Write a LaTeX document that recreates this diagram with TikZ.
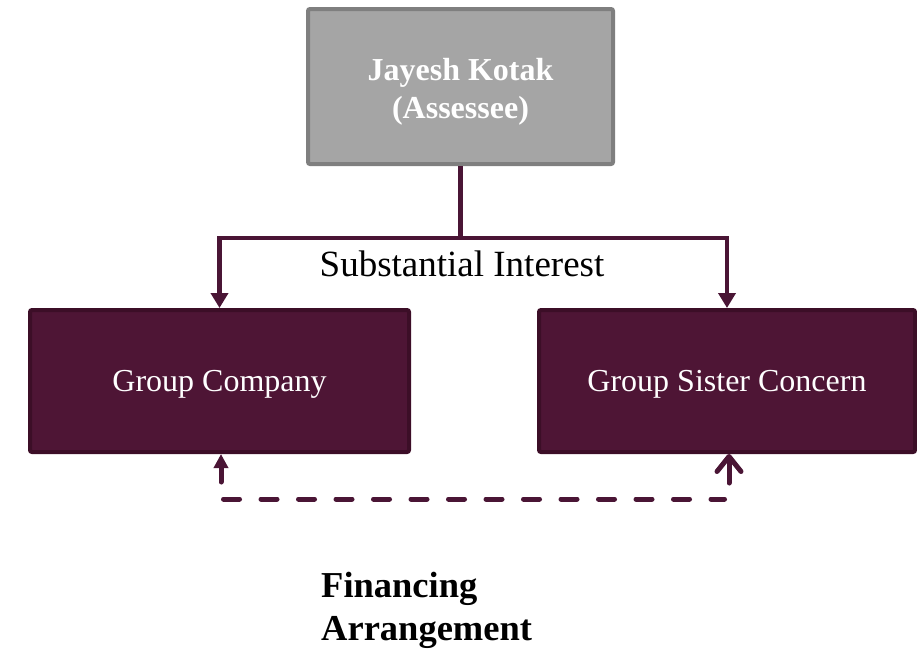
\documentclass[tikz,border=0pt]{standalone}
\usepackage{fontspec}
\setmainfont{Liberation Serif}
\usetikzlibrary{arrows.meta}

\definecolor{topfill}{HTML}{A5A5A5}
\definecolor{topedge}{HTML}{7F7F7F}
\definecolor{boxfill}{HTML}{4E1535}
\definecolor{boxedge}{HTML}{3C0E27}
\definecolor{linkcol}{HTML}{4A1535}

\tikzset{
  topbox/.style={draw=topedge, fill=topfill, line width=4pt, rounded corners=2pt,
    minimum width=305pt, minimum height=155pt, inner sep=0pt,
    text=white, align=center, font=\fontsize{32}{38}\selectfont\bfseries},
  groupbox/.style={draw=boxedge, fill=boxfill, line width=4pt, rounded corners=2pt,
    minimum height=142pt, inner sep=0pt, text=white,
    font=\fontsize{32}{38}\selectfont, text depth=0pt},
  link/.style={draw=linkcol, line width=4.5pt},
  fundflow/.style={draw=linkcol, line width=5pt, line cap=round},
  caption/.style={inner sep=0pt, text=black}
}

\begin{document}
\begin{tikzpicture}[x=1pt,y=1pt]
  \useasboundingbox (0,0) rectangle (917,-649);

  % entities
  \node[topbox] (jk) at (460.5,-86.5) {\rule{0pt}{32pt}Jayesh Kotak\\(Assessee)};
  \node[groupbox, minimum width=379pt] (gc) at (219.5,-381) {Group Company};
  \node[groupbox, minimum width=376pt] (gsc) at (727,-381) {Group Sister Concern};

  % substantial interest branches
  \coordinate (split) at (460.5,-238);
  \draw[link, -{Triangle[width=17pt,length=15pt]}] (jk.south) -- (split) -| (gc.north);
  \draw[link, -{Triangle[width=17pt,length=15pt]}] (split) -| (gsc.north);
  \node[caption, anchor=base, font=\fontsize{37}{44}\selectfont] (si) at (462,-276)
    {Substantial Interest};

  % financing arrangement between the group entities
  \coordinate (gctail) at (221,-482);
  \coordinate (gsctail) at (729,-483);
  \coordinate (fl) at (223.5,-499);
  \coordinate (fr) at (724.5,-499);
  \draw[fundflow, -{Triangle[width=14pt,length=14pt]}] (gctail) -- (gctail |- gc.south);
  \draw[fundflow, line join=round, -{Straight Barb[width=24pt,length=15pt,round]}]
    (gsctail) -- (gsctail |- gsc.south);
  \draw[fundflow, dash pattern=on 16pt off 21.5pt] (fl) -- (fr);

  % two-line caption; its base anchor sits on the last line
  \node[caption, anchor=base west, align=left,
    font=\fontsize{36.5}{43}\selectfont\bfseries] (fa) at (321,-640)
    {Financing\\Arrangement};
\end{tikzpicture}
\end{document}
